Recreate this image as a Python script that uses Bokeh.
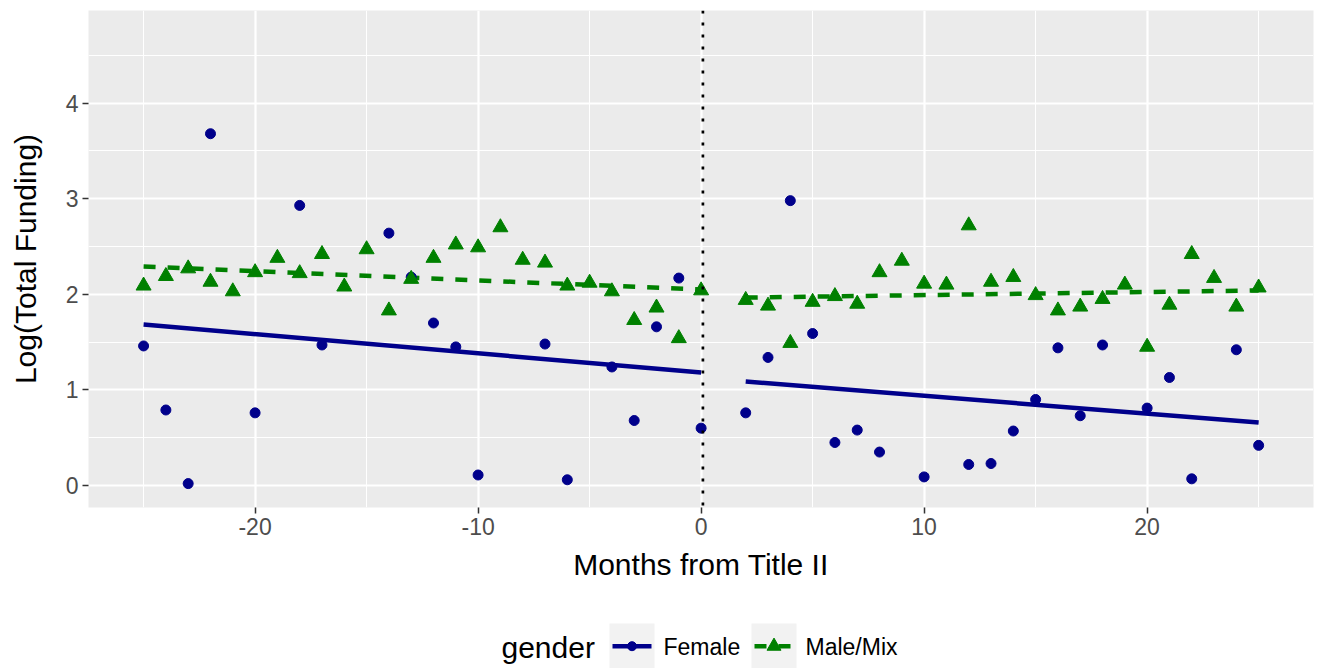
from bokeh.plotting import figure
from bokeh.layouts import column
from bokeh.models import ColumnDataSource, Range1d, FixedTicker, Span
from bokeh.core.properties import value
from bokeh.embed import file_html
from bokeh.resources import INLINE

# ---- data ----
female_months = [-25, -24, -23, -22, -20, -18, -17, -14, -13, -12, -11, -10, -7, -6, -4, -3, -2, -1, 0,
                 2, 3, 4, 5, 6, 7, 8, 10, 12, 13, 14, 15, 16, 17, 18, 20, 21, 22, 24, 25]
female_values = [1.46, 0.79, 0.02, 3.68, 0.76, 2.93, 1.47, 2.64, 2.18, 1.70, 1.45, 0.11, 1.48, 0.06, 1.24, 0.68, 1.66, 2.17, 0.60,
                 0.76, 1.34, 2.98, 1.59, 0.45, 0.58, 0.35, 0.09, 0.22, 0.23, 0.57, 0.90, 1.44, 0.73, 1.47, 0.81, 1.13, 0.07, 1.42, 0.42]

male_months = [-25, -24, -23, -22, -21, -20, -19, -18, -17, -16, -15, -14, -13, -12, -11, -10, -9, -8, -7, -6, -5, -4, -3, -2, -1, 0,
               2, 3, 4, 5, 6, 7, 8, 9, 10, 11, 12, 13, 14, 15, 16, 17, 18, 19, 20, 21, 22, 23, 24, 25]
male_values = [2.09, 2.19, 2.27, 2.13, 2.03, 2.23, 2.38, 2.22, 2.42, 2.08, 2.47, 1.83, 2.16, 2.38, 2.52, 2.49, 2.70, 2.36, 2.33, 2.09, 2.12, 2.03, 1.73, 1.86, 1.54, 2.04,
               1.94, 1.88, 1.49, 1.92, 1.98, 1.90, 2.23, 2.35, 2.11, 2.10, 2.72, 2.13, 2.18, 1.99, 1.83, 1.87, 1.95, 2.10, 1.45, 1.89, 2.42, 2.17, 1.87, 2.07]

# fitted regression segments (before / after Title II)
fit_pre_months = [-25, 0]
fit_post_months = [2, 25]
female_fit_pre = [1.684, 1.182]
female_fit_post = [1.088, 0.658]
male_fit_pre = [2.29, 2.05]
male_fit_post = [1.966, 2.04]

x_ticks = [-20, -10, 0, 10, 20]
x_tick_labels = ["-20", "-10", "0", "10", "20"]
x_minor = [-25, -15, -5, 5, 15, 25]
y_ticks = [0, 1, 2, 3, 4]
y_minor = [0.5, 1.5, 2.5, 3.5, 4.5]

legend_title = "gender"
series_labels = ["Female", "Male/Mix"]

FEMALE = "#00008B"
MALE = "#008000"
FONT = "Liberation Sans"

p = figure(width=1319, height=587, output_backend="svg", toolbar_location=None,
           x_range=Range1d(-27.47, 27.46), y_range=Range1d(-0.23, 4.969),
           min_border_left=88, min_border_right=6, min_border_top=10, min_border_bottom=80,
           frame_width=1225, frame_height=497)

p.background_fill_color = "#EBEBEB"
p.border_fill_color = "white"
p.outline_line_color = None

for ax, t, mt in ((p.xaxis[0], x_ticks, x_minor), (p.yaxis[0], y_ticks, y_minor)):
    ax.ticker = FixedTicker(ticks=t, minor_ticks=mt)
    ax.axis_line_color = None
    ax.major_tick_line_color = "#333333"
    ax.major_tick_line_width = 1.5
    ax.major_tick_out = 6
    ax.major_tick_in = 0
    ax.minor_tick_line_color = None
    ax.major_label_text_color = "#4D4D4D"
    ax.major_label_text_font = FONT
    ax.major_label_text_font_size = "23px"
    ax.axis_label_text_font = FONT
    ax.axis_label_text_font_size = "30px"
    ax.axis_label_text_font_style = "normal"
    ax.axis_label_text_color = "black"

p.xaxis.major_label_overrides = dict(zip(x_ticks, x_tick_labels))
p.xaxis.axis_label = "Months from Title II"
p.yaxis.axis_label = "Log(Total Funding)"
p.xaxis.major_label_standoff = 4
p.yaxis.major_label_standoff = 4
p.xaxis.axis_label_standoff = 10
p.yaxis.axis_label_standoff = 21

for g in (p.xgrid[0], p.ygrid[0]):
    g.grid_line_color = "white"
    g.grid_line_width = 2.2
    g.minor_grid_line_color = "white"
    g.minor_grid_line_width = 1.1

src_f = ColumnDataSource(dict(x=female_months, y=female_values))
src_m = ColumnDataSource(dict(x=male_months, y=male_values))

vline = Span(location=0.08, dimension="height", line_color="black", line_width=2.7, line_dash="3 9")
p.add_layout(vline)

p.line(fit_pre_months, female_fit_pre, line_color=FEMALE, line_width=4.5)
p.line(fit_post_months, female_fit_post, line_color=FEMALE, line_width=4.5)
p.line(fit_pre_months, male_fit_pre, line_color=MALE, line_width=4.5, line_dash="12 12")
p.line(fit_post_months, male_fit_post, line_color=MALE, line_width=4.5, line_dash="12 12")

p.scatter("x", "y", source=src_f, marker="circle", size=10, fill_color=FEMALE, line_color=FEMALE)
p.scatter("x", "y", source=src_m, marker="triangle", size=15, fill_color=MALE, line_color=MALE)

# ---- legend strip (ggplot-style, bottom, horizontal); x in page pixels ----
leg = figure(width=1319, height=81, output_backend="svg", toolbar_location=None,
             x_range=Range1d(88, 1313), y_range=Range1d(81, 0),
             min_border_left=88, min_border_right=6, min_border_top=0, min_border_bottom=0,
             frame_width=1225, frame_height=81, x_axis_type=None, y_axis_type=None)
leg.xgrid.visible = False
leg.ygrid.visible = False
leg.outline_line_color = None
leg.background_fill_color = "white"
leg.border_fill_color = "white"

key_left = [609, 751]
key_w = 45
key_cy = 58.7
colors = [FEMALE, MALE]
dashes = ["solid", "12 12"]
markers = ["circle", "triangle"]
msizes = [9, 14]

for i in range(2):
    x0 = key_left[i]
    leg.quad(left=x0, right=x0 + key_w, top=36, bottom=81, fill_color="#F2F2F2", line_color=None)
    leg.line([x0 + 3, x0 + key_w - 3], [key_cy, key_cy], line_color=colors[i], line_width=4.5,
             line_dash=dashes[i])
    leg.scatter([x0 + key_w / 2], [key_cy], marker=markers[i], size=msizes[i],
                fill_color=colors[i], line_color=colors[i])
    leg.text([x0 + key_w + 9], [key_cy + 1], text=[series_labels[i]], text_font=value(FONT),
             text_font_size="23px", text_color="black", text_baseline="middle", text_align="left")

leg.text([501], [key_cy + 1], text=[legend_title], text_font=value(FONT), text_font_size="30px",
         text_color="black", text_baseline="middle", text_align="left")

layout = column(p, leg, spacing=0)
open("out.html", "w").write(file_html(layout, INLINE))
